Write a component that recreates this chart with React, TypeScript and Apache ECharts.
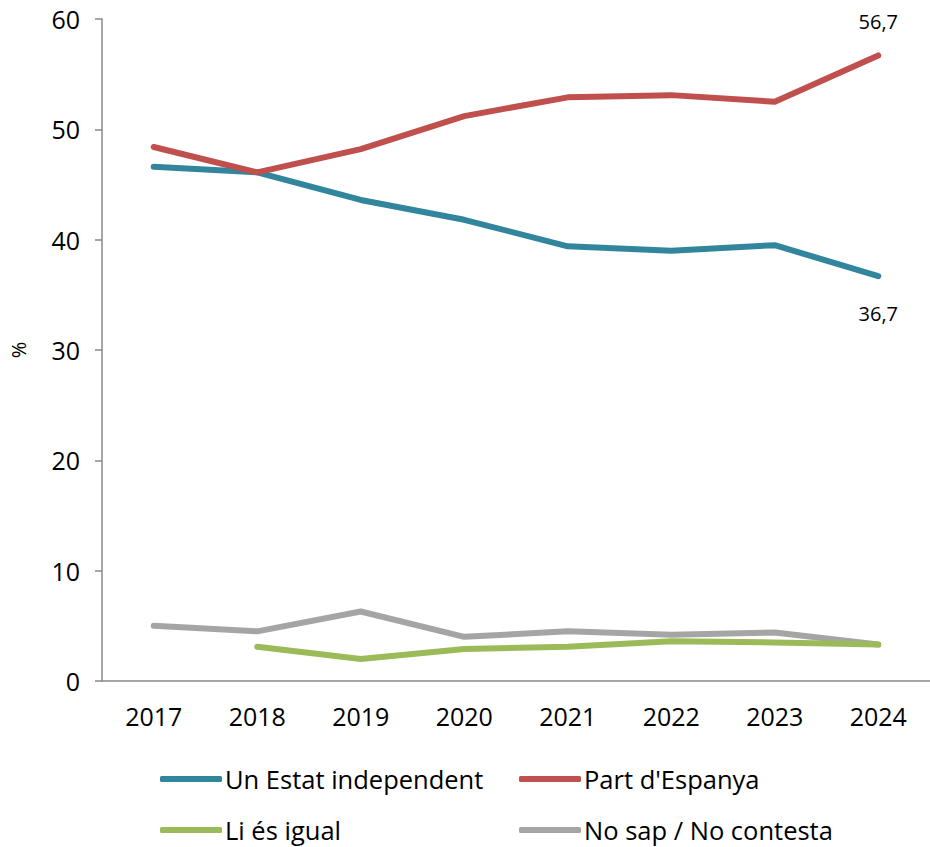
import React, { useEffect, useRef } from "react";
import * as echarts from "echarts";

const years = ["2017", "2018", "2019", "2020", "2021", "2022", "2023", "2024"];
const independent = [46.6, 46.1, 43.6, 41.8, 39.4, 39.0, 39.5, 36.7];
const espanya = [48.4, 46.1, 48.2, 51.2, 52.9, 53.1, 52.5, 56.7];
const igual = [null, 3.1, 2.0, 2.9, 3.1, 3.6, 3.5, 3.3];
const noSap = [5.0, 4.5, 6.3, 4.0, 4.5, 4.2, 4.4, 3.3];
const seriesNames = ["Un Estat independent", "Part d'Espanya", "Li és igual", "No sap / No contesta"];
const colors = ["#31859C", "#C0504D", "#9BBB59", "#A5A5A5"];
const FONT = "'Open Sans', 'Noto Sans', sans-serif";

const fmt = (v: number) => v.toFixed(1).replace(".", ",");

function endMark(arr: (number | null)[], pos: "top" | "bottom", dist: number) {
  const i = arr.length - 1;
  const v = arr[i] as number;
  return {
    symbol: "circle",
    symbolSize: 0,
    silent: true,
    data: [
      {
        coord: [years[i], v],
        value: v,
        label: {
          show: true,
          position: pos,
          distance: dist,
          formatter: fmt(v),
          fontSize: 20,
          fontFamily: FONT,
          color: "#000",
        },
      },
    ],
  };
}

export default function App() {
  const ref = useRef<HTMLDivElement>(null);
  useEffect(() => {
    if (!ref.current) return;
    const chart = echarts.init(ref.current, null, { renderer: "svg" });
    const legendPos = [
      { left: 160, top: 766 },
      { left: 519, top: 766 },
      { left: 160, top: 817 },
      { left: 519, top: 817 },
    ];
    const marks = [endMark(independent, "bottom", 27), endMark(espanya, "top", 24), undefined, undefined];
    chart.setOption({
      animation: false,
      grid: { left: 95, top: 19, width: 842, height: 662, containLabel: false },
      legend: seriesNames.map((n, i) => ({
        data: [n],
        left: legendPos[i].left,
        top: legendPos[i].top,
        padding: 0,
        icon: "roundRect",
        itemWidth: 62,
        itemHeight: 6,
        itemGap: 0,
        textStyle: { fontSize: 25.5, fontFamily: FONT, color: "#000", padding: [0, 0, 0, -2] },
      })),
      xAxis: {
        type: "category",
        data: years,
        boundaryGap: true,
        axisLine: { lineStyle: { color: "#898989", width: 1.5 } },
        axisTick: { alignWithLabel: true, length: 7, lineStyle: { color: "#898989", width: 1.5 } },
        axisLabel: { fontSize: 25, fontFamily: FONT, color: "#000", margin: 22 },
      },
      yAxis: {
        type: "value",
        min: 0,
        max: 60,
        interval: 10,
        name: "%",
        nameLocation: "middle",
        nameGap: 74,
        nameRotate: 90,
        nameTextStyle: { fontSize: 20, fontFamily: FONT, color: "#000" },
        splitLine: { show: false },
        axisLine: { show: true, lineStyle: { color: "#898989", width: 1.5 } },
        axisTick: { show: true, length: 7, lineStyle: { color: "#898989", width: 1.5 } },
        axisLabel: { fontSize: 25, fontFamily: FONT, color: "#000", margin: 22 },
      },
      series: [
        { name: seriesNames[0], data: independent },
        { name: seriesNames[1], data: espanya },
        { name: seriesNames[2], data: igual },
        { name: seriesNames[3], data: noSap },
      ].map((s, i) => ({
        ...s,
        type: "line",
        showSymbol: false,
        symbol: "none",
        connectNulls: false,
        color: colors[i],
        lineStyle: { width: 6, color: colors[i], cap: "round", join: "round" },
        z: i === 3 ? 1 : 2,
        ...(marks[i] ? { markPoint: marks[i] } : {}),
      })),
    });
    return () => chart.dispose();
  }, []);
  return (
    <div
      ref={ref}
      style={{ position: "absolute", left: 0, top: 0, width: 930, height: 847 }}
    />
  );
}
